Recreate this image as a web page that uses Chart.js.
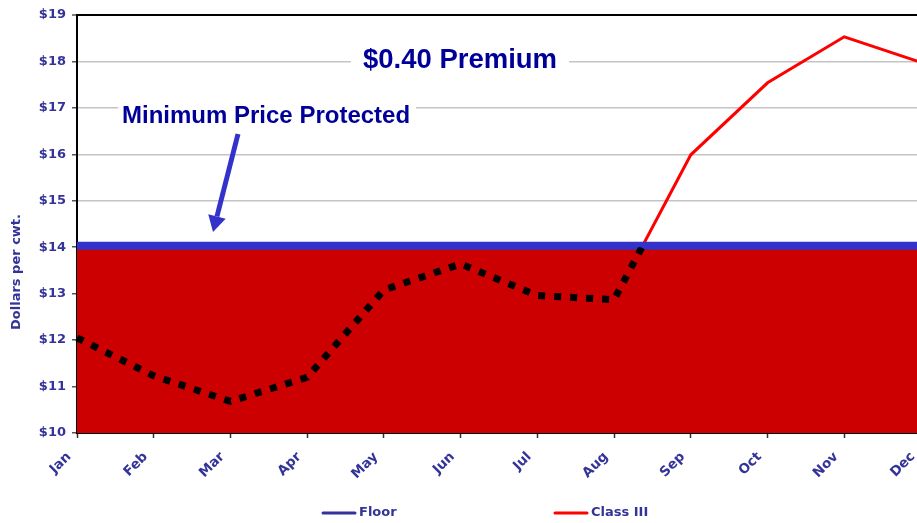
<!DOCTYPE html>
<html>
<head>
<meta charset="utf-8">
<script src="https://cdn.jsdelivr.net/npm/chart.js@4"></script>
<style>
  html, body { margin: 0; padding: 0; background: #fff; overflow: hidden; }
  #wrap { width: 917px; height: 523px; overflow: hidden; }
</style>
</head>
<body>
<div id="wrap"><canvas id="c" width="922" height="523"></canvas></div>
<script>
const months = ['Jan','Feb','Mar','Apr','May','Jun','Jul','Aug','Sep','Oct','Nov','Dec'];
const classIII = [12.05, 11.23, 10.68, 11.2, 13.08, 13.64, 12.96, 12.87, 15.99, 17.54, 18.53, 17.98];
const floorPrice = [14.03, 14.03, 14.03, 14.03, 14.03, 14.03, 14.03, 14.03, 14.03, 14.03, 14.03, 14.03];
const protectedArea = [13.96, 13.96, 13.96, 13.96, 13.96, 13.96, 13.96, 13.96, 13.96, 13.96, 13.96, 13.96];
const yTicks = [10, 11, 12, 13, 14, 15, 16, 17, 18, 19];
const floorLevel = 14;
const legendLabels = ['Floor', 'Class III'];
const annotationPremium = '$0.40 Premium';
const annotationMin = 'Minimum Price Protected';
const yTitle = 'Dollars per cwt.';

const LABEL_COLOR = '#333399';
const NOTE_COLOR = '#000099';
const SANS = '"DejaVu Sans", sans-serif';

const clipPlugin = {
  id: 'clipBelow',
  beforeDatasetDraw(chart, args) {
    const ds = chart.data.datasets[args.index];
    if (ds.clipBelowFloor) {
      const ctx = chart.ctx, a = chart.chartArea;
      const yf = chart.scales.y.getPixelForValue(floorLevel);
      ctx.save();
      ctx.beginPath();
      ctx.rect(a.left - 10, yf, a.right - a.left + 20, a.bottom - yf + 10);
      ctx.clip();
    }
  },
  afterDatasetDraw(chart, args) {
    const ds = chart.data.datasets[args.index];
    if (ds.clipBelowFloor) chart.ctx.restore();
  }
};

const decorPlugin = {
  id: 'decor',
  afterDraw(chart) {
    const ctx = chart.ctx;
    ctx.save();
    // y axis title
    ctx.save();
    ctx.translate(17, 272);
    ctx.rotate(-Math.PI / 2);
    ctx.font = 'bold 13px ' + SANS;
    ctx.fillStyle = LABEL_COLOR;
    ctx.textAlign = 'center';
    ctx.textBaseline = 'middle';
    ctx.fillText(yTitle, 0, 0);
    ctx.restore();

    // Premium annotation
    ctx.font = 'bold 27.5px "Liberation Sans"';
    ctx.textAlign = 'center';
    ctx.textBaseline = 'alphabetic';
    let w = ctx.measureText(annotationPremium).width;
    const px = 460, py = 68;
    ctx.fillStyle = '#fff';
    ctx.fillRect(px - w / 2 - 12, py - 24, w + 24, 30);
    ctx.fillStyle = NOTE_COLOR;
    ctx.fillText(annotationPremium, px, py);

    // Minimum price annotation
    ctx.font = 'bold 24px "Liberation Sans"';
    ctx.textAlign = 'left';
    w = ctx.measureText(annotationMin).width;
    const mx = 122, my = 123;
    ctx.fillStyle = '#fff';
    ctx.fillRect(mx - 4, my - 20, w + 10, 26);
    ctx.fillStyle = NOTE_COLOR;
    ctx.fillText(annotationMin, mx, my);

    // Arrow
    const x0 = 238, y0 = 134, x1 = 213, y1 = 232;
    const ang = Math.atan2(y1 - y0, x1 - x0);
    const headLen = 16, headW = 9;
    const bx = x1 - headLen * Math.cos(ang), by = y1 - headLen * Math.sin(ang);
    ctx.strokeStyle = '#3333CC';
    ctx.fillStyle = '#3333CC';
    ctx.lineWidth = 5;
    ctx.beginPath();
    ctx.moveTo(x0, y0);
    ctx.lineTo(bx, by);
    ctx.stroke();
    ctx.beginPath();
    ctx.moveTo(x1, y1);
    ctx.lineTo(bx + headW * Math.sin(ang), by - headW * Math.cos(ang));
    ctx.lineTo(bx - headW * Math.sin(ang), by + headW * Math.cos(ang));
    ctx.closePath();
    ctx.fill();

    // Legend
    const legendX = [323, 555];
    const ly = 513;
    ctx.font = 'bold 13px ' + SANS;
    ctx.textAlign = 'left';
    ctx.textBaseline = 'middle';
    legendLabels.forEach((lab, i) => {
      const d = chart.data.datasets.find(ds => ds.label === lab);
      const lx = legendX[i];
      ctx.strokeStyle = d.legendColor || d.borderColor;
      ctx.lineWidth = 3;
      ctx.lineCap = 'round';
      ctx.beginPath();
      ctx.moveTo(lx, ly);
      ctx.lineTo(lx + 32, ly);
      ctx.stroke();
      ctx.fillStyle = LABEL_COLOR;
      ctx.fillText(lab, lx + 36, ly);
    });
    ctx.restore();
  }
};

new Chart(document.getElementById('c'), {
  type: 'line',
  data: {
    labels: months,
    datasets: [
      {
        label: 'Class III',
        data: classIII,
        borderColor: '#FF0000',
        borderWidth: 3,
        pointRadius: 0,
        tension: 0,
        fill: false,
        order: 4
      },
      {
        label: 'Protected',
        data: protectedArea,
        borderWidth: 0,
        borderColor: 'rgba(0,0,0,0)',
        backgroundColor: '#CC0000',
        pointRadius: 0,
        fill: 'start',
        order: 3
      },
      {
        label: 'Floor',
        data: floorPrice,
        borderColor: '#3333CC',
        legendColor: '#333399',
        borderWidth: 8,
        pointRadius: 0,
        fill: false,
        order: 2
      },
      {
        label: 'Class III below floor',
        data: classIII,
        borderColor: '#000000',
        borderWidth: 7,
        borderDash: [7, 9],
        borderCapStyle: 'butt',
        pointRadius: 0,
        tension: 0,
        fill: false,
        order: 1,
        clipBelowFloor: true
      }
    ]
  },
  options: {
    responsive: false,
    animation: false,
    layout: { padding: { left: 0, right: 1, top: 15, bottom: 35 } },
    plugins: { legend: { display: false }, tooltip: { enabled: false } },
    scales: {
      x: {
        offset: false,
        grid: { drawOnChartArea: false, drawTicks: true, tickLength: 5, tickColor: '#333', tickWidth: 1.5 },
        border: { color: '#000', width: 2 },
        ticks: { color: LABEL_COLOR, font: { family: SANS, weight: 'bold', size: 13.5 }, maxRotation: 45, minRotation: 45, padding: 11, labelOffset: -8, autoSkip: false },
        afterFit(scale) { scale.height = 55; scale.paddingRight = 0; scale.paddingLeft = 0; }
      },
      y: {
        min: yTicks[0],
        max: yTicks[yTicks.length - 1],
        afterBuildTicks(scale) { scale.ticks = yTicks.map(v => ({ value: v })); },
        grid: {
          color: ctx => (ctx.tick && ctx.tick.value === 19 ? '#000' : '#c4c4c4'),
          lineWidth: ctx => (ctx.tick && ctx.tick.value === 19 ? 2 : 1.5),
          tickColor: '#555',
          tickLength: 5,
          tickWidth: 1.5
        },
        border: { color: '#000', width: 2 },
        ticks: { color: LABEL_COLOR, font: { family: SANS, weight: 'bold', size: 13 }, padding: 6, callback: v => '$' + v },
        afterFit(scale) { scale.width = 77; scale.paddingTop = 0; scale.paddingBottom = 0; }
      }
    }
  },
  plugins: [clipPlugin, decorPlugin]
});
</script>
</body>
</html>
